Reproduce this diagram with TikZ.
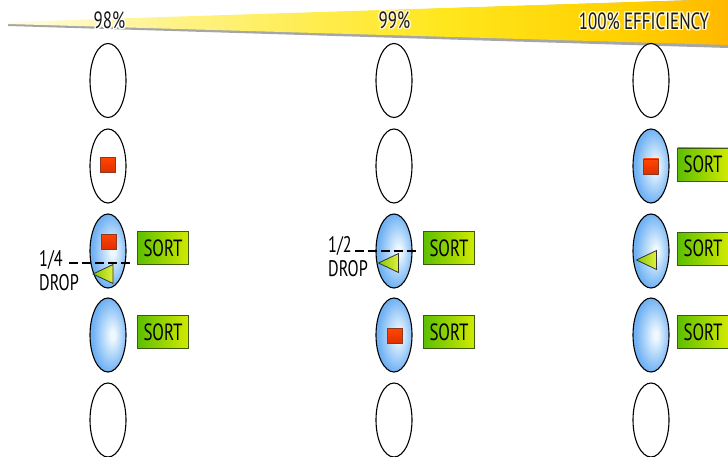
\documentclass[tikz,border=0pt]{standalone}
\usepackage{fontspec}
\setmainfont{PT Sans}
\newfontfamily\cond[FakeStretch=0.72]{PT Sans}
\usepackage{contour}
\contourlength{1.4pt}
\usetikzlibrary{shapes.geometric}
\definecolor{bluec}{HTML}{70B2F4}
\definecolor{lightc}{HTML}{EEF8FF}
\definecolor{w0}{HTML}{FFFCE8}
\definecolor{w1}{HTML}{FFF38A}
\definecolor{w2}{HTML}{FFE71E}
\definecolor{w3}{HTML}{FFD000}
\definecolor{w4}{HTML}{FFB800}
\definecolor{glowc}{HTML}{FFF7C8}
\definecolor{sortl}{HTML}{5CBF00}
\definecolor{sortr}{HTML}{D2EA00}
\definecolor{sortb}{HTML}{3C5A10}
\definecolor{redf}{HTML}{FF4500}
\definecolor{redd}{HTML}{E03000}
\definecolor{redb}{HTML}{8A3A20}
\definecolor{trl}{HTML}{E2F040}
\definecolor{trr}{HTML}{84C800}
\pgfdeclareradialshading{ellblue}{\pgfpoint{7bp}{0bp}}{color(0bp)=(lightc); color(3bp)=(lightc); color(25bp)=(bluec); color(50bp)=(bluec)}
\pgfdeclarehorizontalshading{wedgesh}{100bp}{color(0bp)=(w0); color(25bp)=(w0); color(36bp)=(w1); color(55bp)=(w2); color(68bp)=(w3); color(75bp)=(w4); color(100bp)=(w4)}
\tikzset{
  cell/.style={ellipse, draw=black, line width=1.1pt, minimum width=36pt, minimum height=74pt, inner sep=0pt, fill=white},
  full/.style={cell, shading=ellblue},
  sortbox/.style={draw=sortb, line width=0.8pt, minimum width=51pt, minimum height=33pt, inner sep=0pt,
    left color=sortl, right color=sortr, font=\cond\fontsize{23.5}{23.5}\selectfont, text=black},
  pkt/.style={draw=redb, line width=0.6pt, minimum size=15pt, inner sep=0pt, top color=redf, bottom color=redd},
  tri/.style={isosceles triangle, isosceles triangle stretches=true, shape border rotate=180,
    minimum height=20pt, minimum width=19pt, inner sep=0pt, draw=black!80, line width=0.8pt,
    left color=trr, right color=trl},
  lbl/.style={anchor=west, inner sep=0pt, font=\cond\fontsize{22.5}{22.5}\selectfont, text=black},
  head/.style={inner sep=0pt, font=\cond\fontsize{23.5}{23.5}\selectfont, text=black!90},
  dropline/.style={draw=black, line width=2.2pt, dash pattern=on 9pt off 4pt},
}
\begin{document}
\begin{tikzpicture}[x=1pt, y=-1pt]
\useasboundingbox (0,0) rectangle (728,457);
% banner
\fill[black!35] (8,23) -- (728,-1) -- (728,48) -- (8,26) -- cycle;
\shade[shading=wedgesh] (8,22) -- (728,-1) -- (728,45) -- (8,24) -- cycle;
\node[head] (h98) at (109.5,21) {\contour{white}{98\%}};
\node[head] (h99) at (394.5,21) {\contour{glowc}{99\%}};
\node[head] (h100) at (644,22) {\contour{glowc}{100\% EFFICIENCY}};
% column 1
\node[cell] (a1) at (108,80.5) {};
\node[cell] (a2) at (108,166) {};
\node[full] (a3) at (108,251) {};
\node[full] (a4) at (108,335) {};
\node[cell] (a5) at (108,420) {};
\node[pkt] (pa2) at (108,165) {};
\node[pkt] (pa3) at (109,241.5) {};
\node[tri] (ta3) at (107,274) {};
\node[sortbox] (sa3) at (163,248) {SORT};
\node[sortbox] (sa4) at (163,332) {SORT};
\node[lbl] (fa) at (39,260) {1/4};
\node[lbl] (da) at (39,283) {DROP};
\coordinate (qa1) at (69,263);
\coordinate (qa2) at (132,263);
\draw[dropline] (qa1) -- (qa2);
% column 2
\node[cell] (b1) at (394,80.5) {};
\node[cell] (b2) at (394,166) {};
\node[full] (b3) at (394,251) {};
\node[full] (b4) at (394,335) {};
\node[cell] (b5) at (394,420) {};
\node[pkt] (pb4) at (395,336) {};
\node[tri] (tb3) at (392.5,263) {};
\node[sortbox] (sb3) at (449,248) {SORT};
\node[sortbox] (sb4) at (449,332) {SORT};
\node[lbl] (fb) at (328,246.5) {1/2};
\node[lbl] (db) at (328,269) {DROP};
\coordinate (qb1) at (355,251);
\coordinate (qb2) at (418,251);
\draw[dropline] (qb1) -- (qb2);
% column 3
\node[cell] (c1) at (651,80.5) {};
\node[full] (c2) at (651,166) {};
\node[full] (c3) at (651,251) {};
\node[full] (c4) at (651,335) {};
\node[cell] (c5) at (651,420) {};
\node[pkt] (pc2) at (651,166.5) {};
\node[tri] (tc3) at (650.5,260) {};
\node[sortbox] (sc2) at (703,164.5) {SORT};
\node[sortbox] (sc3) at (703,248.5) {SORT};
\node[sortbox] (sc4) at (703,332) {SORT};
\end{tikzpicture}
\end{document}
